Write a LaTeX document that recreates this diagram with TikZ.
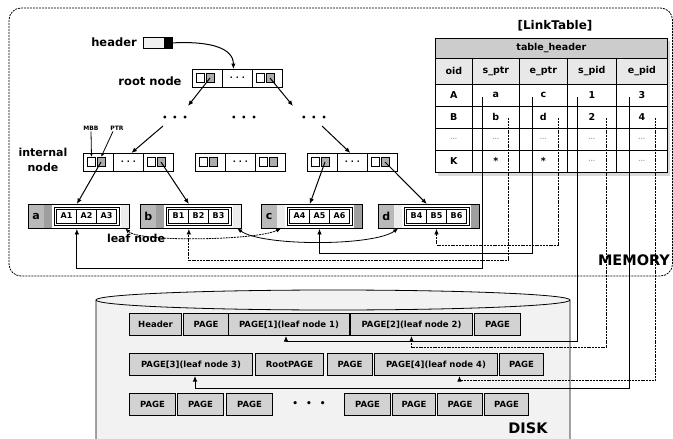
\documentclass[tikz,border=0pt]{standalone}
\usepackage{fontspec}
\setmainfont{DejaVu Sans}
\usetikzlibrary{arrows.meta,calc}
\newcommand{\myfs}[1]{\fontsize{#1}{#1}\selectfont}
\newcommand{\tdots}{{\color{gray!70}\myfs{6}...}}
\tikzset{
 arr/.style={line width=1pt, -{Latex[length=5.5pt,width=4.5pt]}},
 link/.style={line width=0.8pt, -{Latex[length=5.5pt,width=4.5pt]}},
 linkd/.style={link, dash pattern=on 2pt off 0.8pt},
 dlink/.style={line width=0.8pt, {Latex[length=5pt,width=4pt]}-{Latex[length=5pt,width=4pt]}},
 lbl/.style={font=\bfseries\myfs{11.5}, inner sep=0pt},
 tcell/.style={draw, line width=0.8pt, minimum width=30pt, minimum height=18pt, inner sep=0pt, anchor=north west, font=\bfseries\myfs{8}},
 sqw/.style={draw, line width=0.6pt, fill=white, minimum width=8pt, minimum height=9pt, inner sep=0pt},
 sqd/.style={sqw, fill=gray!65},
 lcell/.style={draw, line width=0.7pt, minimum width=20pt, minimum height=14pt, inner sep=0pt, font=\bfseries\myfs{8}},
 blk/.style={anchor=north west, minimum height=24pt, inner sep=0pt},
 pg/.style={draw, line width=1pt, fill=gray!35, minimum height=22pt, inner sep=0pt, anchor=north west, font=\bfseries\myfs{8.5}},
 tb/.style={draw, line width=0.7pt, minimum height=22pt, inner sep=0pt, anchor=north west, font=\bfseries\myfs{9.5}},
 pics/treenode/.style={code={
   \node[tcell] (-c1) at (0,0) {};
   \node[tcell] (-c2) at (30,0) {·\hspace{3pt}·\hspace{3pt}·};
   \node[tcell] (-c3) at (60,0) {};
   \node[sqw] (-m1) at (8.5,9) {};
   \node[sqd] (-p1) at (18,9) {};
   \node[sqw] (-m3) at (68.5,9) {};
   \node[sqd] (-p3) at (78,9) {};
 }},
 pics/leaf/.style n args={6}{code={
   \node[blk, fill=gray!55, minimum width=16pt, font=\bfseries\myfs{11}] (-lab) at (0,0) {#1};
   \node[blk, fill=#2, minimum width=8pt] (-ls) at (16,0) {};
   \node[blk, fill=#3, minimum width=8pt] (-rs) at (93,0) {};
   \node[draw, line width=0.7pt, fill=white, minimum width=65pt, minimum height=18pt, inner sep=0pt, anchor=north west] (-con) at (26,3) {};
   \node[lcell] (-c1) at (38.5,12) {#4};
   \node[lcell] (-c2) at (58.5,12) {#5};
   \node[lcell] (-c3) at (78.5,12) {#6};
   \node[draw, line width=0.9pt, minimum width=101pt, minimum height=24pt, inner sep=0pt, anchor=north west] (-box) at (0,0) {};
 }},
}
\begin{document}
\begin{tikzpicture}[x=1pt,y=-1pt]
\useasboundingbox (0,0) rectangle (673,439);
\fill[white] (0,0) rectangle (673,439);

% memory frame
\draw[line width=0.8pt, dash pattern=on 2pt off 1pt, rounded corners=12pt] (9,8) rectangle (672.5,276);
\node[font=\bfseries\myfs{14.5}, inner sep=0pt] (memlbl) at (634,260) {MEMORY};

% header
\node[lbl] (hdrlbl) at (114,42) {header};
\node[draw, line width=0.8pt, fill=gray!12, minimum width=29pt, minimum height=11pt, inner sep=0pt, anchor=north west] (hdr) at (143,37) {};
\node[fill=black, minimum width=9pt, minimum height=11pt, inner sep=0pt, anchor=east] (hdrptr) at (hdr.east) {};

% tree nodes
\node[lbl] (rootlbl) at (150,81) {root node};
\pic (root) at (192,69) {treenode};
\pic (int1) at (83,153) {treenode};
\pic (int2) at (195,153) {treenode};
\pic (int3) at (307,153) {treenode};
\node[font=\bfseries\myfs{8}, inner sep=0pt] (dots1) at (175,118) {•\hspace{5pt}•\hspace{5pt}•};
\node[font=\bfseries\myfs{8}, inner sep=0pt] (dots2) at (244,118) {•\hspace{5pt}•\hspace{5pt}•};
\node[font=\bfseries\myfs{8}, inner sep=0pt] (dots3) at (314,118) {•\hspace{5pt}•\hspace{5pt}•};
\node[lbl, align=center, font=\bfseries\myfs{11}, text depth=0pt] (intlbl) at (43,160) {internal\\[4pt]node};
\node[font=\bfseries\myfs{6}, inner sep=1pt] (mbblbl) at (91,128) {MBB};
\node[font=\bfseries\myfs{6}, inner sep=1pt] (ptrlbl) at (117,128) {PTR};

\draw[arr] (hdrptr.east) .. controls +(40,-2) and +(0,-20) .. ([xshift=-4pt]root-c2.north);
\draw[arr] (root-p1.center) -- ([shift={(13,-12)}]dots1.center);
\draw[arr] (root-p3.center) -- ([shift={(-21,-12)}]dots3.center);
\draw[arr] ([shift={(-12,8)}]dots1.center) -- ([xshift=3pt]int1-c2.north);
\draw[arr] ([shift={(8,8)}]dots3.center) -- ([xshift=-2pt]int3-c2.north);
\draw[line width=0.8pt, -{Latex[length=4pt,width=3pt]}] (mbblbl.south) -- (int1-m1.north);
\draw[line width=0.8pt, -{Latex[length=4pt,width=3pt]}] ([xshift=-4pt]ptrlbl.south) -- (int1-p1.north);

% leaves
\pic (leafa) at (28,204) {leaf={a}{gray!75}{gray!15}{A1}{A2}{A3}};
\pic (leafb) at (140,204) {leaf={b}{gray!75}{gray!15}{B1}{B2}{B3}};
\pic (leafc) at (261,204) {leaf={c}{gray!15}{gray!75}{A4}{A5}{A6}};
\pic (leafd) at (378,204) {leaf={d}{gray!15}{gray!75}{B4}{B5}{B6}};
\node[lbl, font=\bfseries\myfs{11}] (leaflbl) at (136,238) {leaf node};

\draw[arr] (int1-p1.center) -- (leafa-c1.east |- leafa-box.north);
\draw[arr] (int1-p3.center) -- (leafb-c1.east |- leafb-box.north);
\draw[arr] (int3-p1.center) -- (leafc-c1.east |- leafc-box.north);
\draw[arr] (int3-p3.center) -- (leafd-c1.east |- leafd-box.north);

\draw[dlink, dash pattern=on 2pt off 0.8pt] (leafa-rs.south) .. controls +(15,14) and +(-25,12) .. (leafc-ls.south);
\draw[dlink] (leafb-rs.south) .. controls +(25,18) and +(-25,18) .. (leafd-ls.south);

% link table
\fill[gray!30] (438,41) rectangle (670,176);
\node[font=\bfseries\myfs{12}, inner sep=0pt] (lttitle) at (555,26) {[LinkTable]};
\node[tb, fill=gray!40, minimum width=232pt, minimum height=20pt] (thead) at (435,38) {table\_header};
\node[tb, fill=gray!18, minimum width=37pt, minimum height=26pt] (th1) at (435,58) {oid};
\node[tb, fill=gray!18, minimum width=47pt, minimum height=26pt] (th2) at (472,58) {s\_ptr};
\node[tb, fill=gray!18, minimum width=48pt, minimum height=26pt] (th3) at (519,58) {e\_ptr};
\node[tb, fill=gray!18, minimum width=49pt, minimum height=26pt] (th4) at (567,58) {s\_pid};
\node[tb, fill=gray!18, minimum width=51pt, minimum height=26pt] (th5) at (616,58) {e\_pid};
\foreach \rn/\yy/\va/\vb/\vc/\vd/\ve in {A/84/A/a/c/1/3, B/106/B/b/d/2/4, E/128/\tdots/\tdots/\tdots/\tdots/\tdots, K/150/K/*/*/\tdots/\tdots}{
  \node[tb, fill=white, minimum width=37pt] (t\rn1) at (435,\yy) {\va};
  \node[tb, fill=white, minimum width=47pt] (t\rn2) at (472,\yy) {\vb};
  \node[tb, fill=white, minimum width=48pt] (t\rn3) at (519,\yy) {\vc};
  \node[tb, fill=white, minimum width=49pt] (t\rn4) at (567,\yy) {\vd};
  \node[tb, fill=white, minimum width=51pt] (t\rn5) at (616,\yy) {\ve};
}
\coordinate (sa) at ([shift={(-13.5,2)}]tA2.center);
\coordinate (sb) at ([shift={(12.5,1)}]tB2.center);
\coordinate (sc) at ([shift={(-11,2)}]tA3.center);
\coordinate (sd) at ([shift={(15,1)}]tB3.center);
\coordinate (s1) at ([shift={(-14.5,2)}]tA4.center);
\coordinate (s2) at ([shift={(14.5,1)}]tB4.center);
\coordinate (s3) at ([shift={(-12.5,2)}]tA5.center);
\coordinate (s4) at ([shift={(13.5,1)}]tB5.center);

% disk
\fill[gray!10] (96,300) arc[start angle=180, end angle=0, x radius=237pt, y radius=10pt] -- (570,439.5) -- (96,439.5) -- cycle;
\draw[line width=0.8pt] (96,439.5) -- (96,300) arc[start angle=180, end angle=0, x radius=237pt, y radius=10pt] -- (570,439.5);
\draw[line width=0.8pt] (96,300) arc[start angle=180, end angle=360, x radius=237pt, y radius=10pt];
\node[font=\bfseries\myfs{14.5}, inner sep=0pt] (disklbl) at (528,428) {DISK};

\node[pg, minimum width=52pt] (pghdr) at (129,313) {Header};
\node[pg, minimum width=45pt] (pg1b) at (183,313) {PAGE};
\node[pg, minimum width=121pt] (p1) at (228,313) {PAGE[1](leaf node 1)};
\node[pg, minimum width=122pt] (p2) at (350,313) {PAGE[2](leaf node 2)};
\node[pg, minimum width=46pt] (pg1e) at (474,313) {PAGE};
\node[pg, minimum width=123pt] (p3) at (129,353) {PAGE[3](leaf node 3)};
\node[pg, minimum width=68pt] (rootpg) at (255,353) {RootPAGE};
\node[pg, minimum width=45pt] (pg2c) at (327,353) {PAGE};
\node[pg, minimum width=123pt] (p4) at (374,353) {PAGE[4](leaf node 4)};
\node[pg, minimum width=44pt] (pg2e) at (499,353) {PAGE};
\node[pg, minimum width=46pt] (pg3a) at (129,393) {PAGE};
\node[pg, minimum width=46pt] (pg3b) at (177,393) {PAGE};
\node[pg, minimum width=46pt] (pg3c) at (226,393) {PAGE};
\node[font=\bfseries\myfs{9}, inner sep=0pt] (diskdots) at (309,404) {•\hspace{8pt}•\hspace{8pt}•};
\node[pg, minimum width=46pt] (pg3d) at (344,393) {PAGE};
\node[pg, minimum width=43pt] (pg3e) at (392,393) {PAGE};
\node[pg, minimum width=45pt] (pg3f) at (437,393) {PAGE};
\node[pg, minimum width=44pt] (pg3g) at (484,393) {PAGE};

% connectors from the link table
\draw[link] (sa) -- (sa |- 0,268) -| (leafa-c1.east |- leafa-box.south);
\draw[linkd] (sb) -- (sb |- 0,260) -| (leafb-c1.east |- leafb-box.south);
\draw[link] (sc) -- (sc |- 0,253) -| (leafc-c2.center |- leafc-box.south);
\draw[linkd] (sd) -- (sd |- 0,245) -| (leafd-c2.center |- leafd-box.south);
\draw[link] (s1) -- (s1 |- 0,341) -| ([xshift=-3pt]p1.south);
\draw[linkd] (s2) -- (s2 |- 0,347) -| (p2.south);
\draw[link] (s3) -- (s3 |- 0,388) -| ([xshift=4pt]p3.south);
\draw[linkd] (s4) -- (s4 |- 0,380) -| ([xshift=23.5pt]p4.south);
\end{tikzpicture}
\end{document}
